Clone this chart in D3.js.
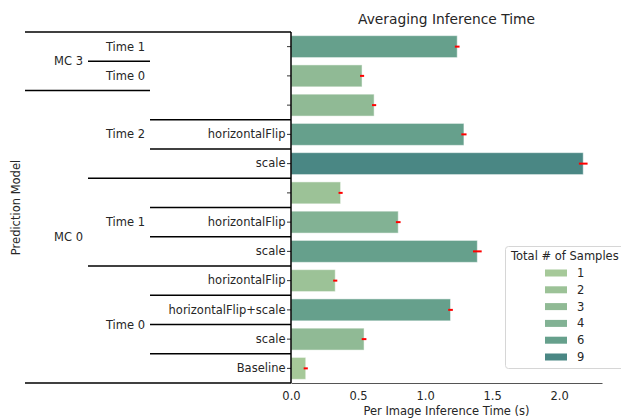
<!DOCTYPE html>
<html lang="en">
<head>
    <meta charset="UTF-8">
    <title>Averaging Inference Time</title>
    <style>
        body { margin: 0; background: #fff; }
        svg { font-family: "DejaVu Sans", sans-serif; }
    </style>
    <script src="https://cdn.jsdelivr.net/npm/d3@7"></script>
</head>
<body>
<svg id="svg_main"></svg>
<script>
    // data, one entry per bar (top to bottom)
    const mcLabels   = ["MC 3", "MC 3", "MC 0", "MC 0", "MC 0", "MC 0", "MC 0", "MC 0", "MC 0", "MC 0", "MC 0", "MC 0"];
    const timeLabels = ["Time 1", "Time 0", "Time 2", "Time 2", "Time 2", "Time 1", "Time 1", "Time 1", "Time 0", "Time 0", "Time 0", "Time 0"];
    const augLabels  = ["", "", "", "horizontalFlip", "scale", "", "horizontalFlip", "scale",
                        "horizontalFlip", "horizontalFlip+scale", "scale", "Baseline"];
    const times      = [1.24, 0.53, 0.62, 1.29, 2.18, 0.37, 0.80, 1.39, 0.33, 1.19, 0.545, 0.11];
    const errs       = [0.01, 0.008, 0.008, 0.012, 0.025, 0.008, 0.01, 0.025, 0.008, 0.01, 0.01, 0.008];
    const samples    = [6, 3, 3, 6, 9, 2, 4, 6, 2, 6, 3, 1];
    const sampleLevels = [1, 2, 3, 4, 6, 9];
    const sampleColors = ["#a6c999", "#9cc297", "#90ba95", "#82b294", "#66a08c", "#4a8784"];
    const xTicks = [0, 0.5, 1.0, 1.5, 2.0];

    const width = 621, height = 419;
    const plotLeft = 291, plotRight = 602, plotTop = 32, plotBottom = 383;
    const colX = [25, 88, 150, plotLeft]; // hierarchy column edges
    const textColor = "#262626";
    const fs = 11.5;

    let svg = d3.select('#svg_main').attr('width', width).attr('height', height);

    let x = d3.scaleLinear().domain([0, 2.32]).range([plotLeft, plotRight]);
    let y = d3.scaleBand().domain(d3.range(times.length))
        .range([plotTop, plotBottom]).paddingInner(0.25).paddingOuter(0.125);
    let color = d3.scaleOrdinal().domain(sampleLevels).range(sampleColors);
    let step = y.step();
    let rowTop = i => plotTop + i * step;

    // title
    svg.append("text")
        .attr("x", (plotLeft + plotRight) / 2).attr("y", 24)
        .attr("text-anchor", "middle").attr("font-size", 13.8).attr("fill", textColor)
        .text("Averaging Inference Time");

    // bars
    svg.append("g").selectAll("rect")
        .data(times)
        .enter().append("rect")
        .attr("x", x(0))
        .attr("y", (d, i) => y(i))
        .attr("width", d => x(d) - x(0))
        .attr("height", y.bandwidth())
        .attr("fill", (d, i) => color(samples[i]))
        .attr("stroke", "#ffffff").attr("stroke-opacity", 0.5).attr("stroke-width", 1);

    // error bars
    svg.append("g").selectAll("line")
        .data(times)
        .enter().append("line")
        .attr("x1", (d, i) => x(d - errs[i]) - 1)
        .attr("x2", (d, i) => x(d + errs[i]) + 1)
        .attr("y1", (d, i) => y(i) + y.bandwidth() / 2)
        .attr("y2", (d, i) => y(i) + y.bandwidth() / 2)
        .attr("stroke", "red").attr("stroke-width", 2);

    // x axis
    let xAxis = svg.append("g")
        .attr("transform", `translate(0,${plotBottom})`)
        .call(d3.axisBottom(x).tickValues(xTicks).tickFormat(d3.format(".1f")).tickSize(0).tickPadding(9));
    xAxis.select(".domain").attr("stroke", "#555").attr("stroke-width", 1.2);
    xAxis.selectAll("text").attr("font-size", fs).attr("fill", textColor)
        .attr("font-family", "DejaVu Sans, sans-serif");

    svg.append("text")
        .attr("x", (plotLeft + plotRight) / 2).attr("y", 415)
        .attr("text-anchor", "middle").attr("font-size", fs).attr("fill", textColor)
        .text("Per Image Inference Time (s)");

    // y axis (innermost labels)
    let yAxis = svg.append("g")
        .attr("transform", `translate(${plotLeft},0)`)
        .call(d3.axisLeft(y).tickFormat(i => augLabels[i]).tickSize(4).tickPadding(1.5));
    yAxis.select(".domain").remove();
    yAxis.selectAll(".tick line").attr("stroke", "#333");
    yAxis.selectAll("text").attr("font-size", fs).attr("fill", textColor)
        .attr("font-family", "DejaVu Sans, sans-serif");

    // hierarchy: group consecutive equal labels per level
    function groups(labels) {
        let out = [];
        labels.forEach((l, i) => {
            let last = out[out.length - 1];
            if (last && last.label === l) last.end = i;
            else out.push({label: l, start: i, end: i});
        });
        return out;
    }
    let levels = [mcLabels, timeLabels, augLabels];
    let hier = svg.append("g");
    levels.forEach((labels, lv) => {
        groups(labels).forEach((g, gi) => {
            if (gi > 0) {
                hier.append("line")
                    .attr("x1", colX[lv]).attr("x2", colX[lv + 1])
                    .attr("y1", rowTop(g.start)).attr("y2", rowTop(g.start))
                    .attr("stroke", "black").attr("stroke-width", 1.5);
            }
            if (lv < 2 && g.label !== "") {
                hier.append("text")
                    .attr("x", colX[lv + 1] - 5)
                    .attr("y", (rowTop(g.start) + rowTop(g.end + 1)) / 2)
                    .attr("dy", "0.35em")
                    .attr("text-anchor", "end").attr("font-size", fs).attr("fill", textColor)
                    .text(g.label);
            }
        });
    });
    // outer frame of the hierarchy
    [plotTop, plotBottom].forEach(yy => {
        hier.append("line")
            .attr("x1", colX[0]).attr("x2", plotLeft)
            .attr("y1", yy).attr("y2", yy)
            .attr("stroke", "black").attr("stroke-width", 1.5);
    });
    hier.append("line")
        .attr("x1", plotLeft).attr("x2", plotLeft)
        .attr("y1", plotTop).attr("y2", plotBottom)
        .attr("stroke", "black").attr("stroke-width", 1.5);

    svg.append("text")
        .attr("transform", `translate(20,${(plotTop + plotBottom) / 2}) rotate(-90)`)
        .attr("text-anchor", "middle").attr("font-size", fs).attr("fill", textColor)
        .text("Prediction Model");

    // legend
    let legend = svg.append("g").attr("transform", "translate(505,246)");
    legend.append("rect")
        .attr("x", 0.5).attr("y", 0.5).attr("width", 125).attr("height", 122)
        .attr("rx", 3).attr("fill", "white").attr("fill-opacity", 0.8)
        .attr("stroke", "#d6d6d6");
    legend.append("text")
        .attr("x", 6).attr("y", 14).attr("font-size", fs).attr("fill", textColor)
        .text("Total # of Samples");
    let items = legend.selectAll(".item")
        .data(sampleLevels)
        .enter().append("g")
        .attr("transform", (d, i) => `translate(0,${27 + i * 16.8})`);
    items.append("rect")
        .attr("x", 40).attr("y", -3.5).attr("width", 22).attr("height", 7)
        .attr("fill", d => color(d));
    items.append("text")
        .attr("x", 72).attr("dy", "0.35em").attr("font-size", fs).attr("fill", textColor)
        .text(d => d);
</script>
</body>
</html>
